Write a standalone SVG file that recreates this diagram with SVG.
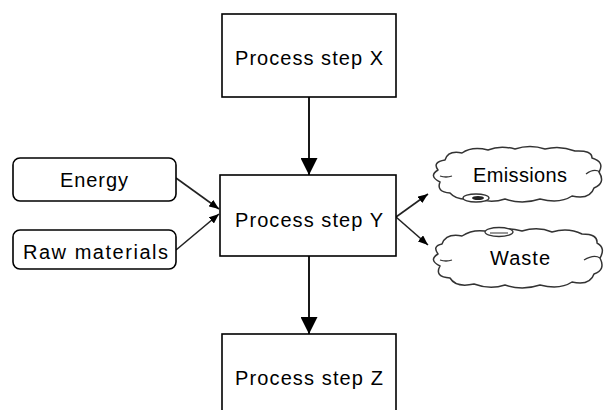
<svg xmlns="http://www.w3.org/2000/svg" width="606" height="410" viewBox="0 0 606 410">
<defs>
<style>
.box{fill:#fff;stroke:#000;stroke-width:1.6}
.cloud{fill:#fff;stroke:#333;stroke-width:1.5;stroke-linejoin:round}
.curl{fill:none;stroke:#333;stroke-width:1.3}
.t{font-family:"Liberation Sans",Arial,sans-serif;font-size:20px;fill:#000}
.ln{stroke:#000;stroke-width:1.8;fill:none}
.ln2{stroke:#222;stroke-width:1.6;fill:none}
</style>
<marker id="big" markerWidth="19" markerHeight="17" refX="19" refY="9.5" orient="auto" markerUnits="userSpaceOnUse" viewBox="0 0 19 19">
<path d="M0,0 L19,9.5 L0,19 Z" fill="#000"/>
</marker>
<marker id="small" markerWidth="10" markerHeight="8" refX="10" refY="4" orient="auto" markerUnits="userSpaceOnUse" viewBox="0 0 10 8">
<path d="M0,0 L10,4 L0,8 Z" fill="#000"/>
</marker>
</defs>
<rect width="606" height="410" fill="#fff"/>
<g id="connectors">
<line class="ln" x1="309" y1="97" x2="309" y2="175" marker-end="url(#big)"/>
<line class="ln" x1="309" y1="256" x2="309" y2="334" marker-end="url(#big)"/>
<line class="ln2" x1="176" y1="178" x2="219" y2="209" marker-end="url(#small)"/>
<line class="ln2" x1="176" y1="250" x2="219" y2="214" marker-end="url(#small)"/>
<line class="ln2" x1="396" y1="217" x2="428" y2="194" marker-end="url(#small)"/>
<line class="ln2" x1="396" y1="217" x2="428" y2="245" marker-end="url(#small)"/>
</g>
<g id="stepX">
<rect class="box" x="222" y="14" width="174" height="83"/>
<text class="t" x="309" y="65" text-anchor="middle" textLength="148" lengthAdjust="spacing">Process step X</text>
</g>
<g id="stepY">
<rect class="box" x="220" y="175" width="176" height="81"/>
<text class="t" x="309" y="227" text-anchor="middle" textLength="148" lengthAdjust="spacing">Process step Y</text>
</g>
<g id="stepZ">
<rect class="box" x="222" y="334" width="174" height="90"/>
<text class="t" x="309" y="385" text-anchor="middle" textLength="148" lengthAdjust="spacing">Process step Z</text>
</g>
<g id="energy">
<rect class="box" x="13" y="158" width="163" height="43" rx="7"/>
<text class="t" x="94" y="187" text-anchor="middle" textLength="68" lengthAdjust="spacing">Energy</text>
</g>
<g id="raw">
<rect class="box" x="13" y="230" width="163" height="39" rx="7"/>
<text class="t" x="95.5" y="259" text-anchor="middle" textLength="145" lengthAdjust="spacing">Raw materials</text>
</g>
<g id="emissions">
<path class="cloud" d="M445 160 Q448 150 462 153 Q472 146 488 150 Q500 145 515 149 Q530 144 545 149 Q560 145 575 151 Q592 150 592 158 Q605 162 599 172 Q606 183 594 188 Q590 200 572 196 Q560 204 540 199 Q522 205 505 199 Q490 204 476 198 Q458 202 450 193 Q436 192 440 182 Q428 176 438 170 Q432 162 445 160 Z"/>
<path class="curl" d="M586 174 Q594 168 600 172"/>
<path class="curl" d="M440 176 Q446 178 452 176"/>
<ellipse cx="476" cy="198" rx="13" ry="4" fill="#fff" stroke="#333" stroke-width="1.3"/>
<ellipse cx="478" cy="198" rx="6" ry="2" fill="#222"/>
<text class="t" x="520" y="182" text-anchor="middle" textLength="94" lengthAdjust="spacing">Emissions</text>
</g>
<g id="waste">
<path class="cloud" d="M442 244 Q446 233 462 236 Q474 228 490 232 Q505 226 522 231 Q538 226 552 232 Q568 227 582 234 Q598 234 597 243 Q606 248 600 258 Q606 270 594 274 Q590 286 572 282 Q560 290 540 285 Q522 291 505 285 Q490 290 474 284 Q456 288 450 278 Q434 277 440 266 Q428 260 438 254 Q432 246 442 244 Z"/>
<path class="curl" d="M584 260 Q594 254 600 258"/>
<path class="curl" d="M440 260 Q446 262 452 260"/>
<ellipse cx="499" cy="232" rx="14" ry="4.5" fill="#fff" stroke="#333" stroke-width="1.3"/>
<line x1="490" y1="233" x2="508" y2="233" stroke="#555" stroke-width="1.2"/>
<text class="t" x="520" y="265" text-anchor="middle" textLength="60" lengthAdjust="spacing">Waste</text>
</g>
</svg>
